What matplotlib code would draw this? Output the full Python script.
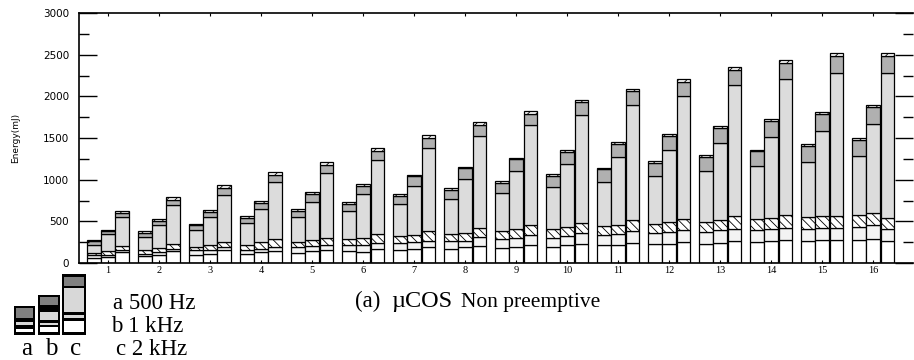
import matplotlib
matplotlib.use("Agg")
import matplotlib.pyplot as plt
from matplotlib.patches import Rectangle
import numpy as np

# ---- data (mJ), per group: (a=500Hz, b=1kHz, c=2kHz) ----
groups = [str(i) for i in range(1, 17)]
white = [(60, 72, 132), (80, 92, 144), (92, 112, 152), (104, 132, 140),
         (124, 140, 152), (140, 132, 172), (160, 172, 192), (172, 188, 205),
         (184, 192, 213), (192, 213, 229), (213, 221, 245), (225, 233, 253),
         (233, 245, 265), (253, 261, 273), (265, 273, 273), (281, 293, 265)]
offwhite = [(32, 28, 28), (32, 40, 28), (60, 40, 40), (48, 40, 52),
            (68, 65, 68), (80, 88, 73), (81, 81, 77), (93, 81, 108),
            (101, 113, 120), (113, 112, 132), (120, 132, 136), (140, 140, 148),
            (140, 148, 148), (140, 144, 152), (148, 148, 148), (152, 160, 148)]
hatched = [(32, 44, 45), (40, 48, 53), (40, 69, 61), (69, 81, 101),
           (61, 76, 85), (73, 85, 100), (80, 80, 120), (88, 96, 112),
           (96, 100, 120), (108, 108, 120), (112, 108, 132), (108, 120, 124),
           (120, 120, 148), (132, 136, 148), (140, 144, 144), (148, 148, 132)]
lightgray = [(97, 202, 346), (164, 276, 477), (207, 333, 563), (254, 399, 674),
             (297, 456, 773), (331, 525, 891), (382, 591, 994), (414, 645, 1104),
             (460, 703, 1198), (494, 753, 1296), (528, 807, 1382), (567, 862, 1481),
             (614, 928, 1579), (634, 974, 1632), (661, 1024, 1719), (699, 1066, 1734)]
midgray = [(40, 35, 45), (45, 50, 55), (55, 60, 85), (70, 70, 90),
           (80, 90, 100), (90, 100, 110), (100, 115, 120), (115, 125, 130),
           (125, 135, 140), (140, 150, 150), (150, 160, 165), (160, 170, 170),
           (165, 180, 180), (180, 190, 200), (190, 200, 205), (200, 210, 210)]
topband = [(20, 20, 30)] * 16

freq_labels = ["a 500 Hz", "b 1 kHz", "c 2 kHz"]

segments = [
    (white, dict(facecolor="white")),
    (offwhite, dict(facecolor="#f3f3f3")),
    (hatched, dict(facecolor="white", hatch="\\\\\\\\")),
    (lightgray, dict(facecolor="#dcdcdc")),
    (midgray, dict(facecolor="#b0b0b0")),
    (topband, dict(facecolor="white", hatch="////")),
]

plt.rcParams["hatch.linewidth"] = 0.6
fig = plt.figure(figsize=(9.14, 3.60), dpi=100)
ax = fig.add_axes([79 / 914, 97 / 360, 834 / 914, 250 / 360])

x = np.arange(1, len(groups) + 1)
offsets = [-0.28, 0.0, 0.28]
width = 0.27
for k, off in enumerate(offsets):
    bottom = np.zeros(len(groups))
    for seg, style in segments:
        vals = np.array([g[k] for g in seg], dtype=float)
        ax.bar(x + off, vals, width, bottom=bottom, edgecolor="black",
               linewidth=0.9, **style)
        bottom += vals

ax.set_xlim(0.43, 16.78)
ax.set_ylim(0, 3000)
ax.set_yticks(np.arange(0, 3001, 500))
ax.set_yticks(np.arange(0, 3001, 250), minor=True)
ax.tick_params(axis="y", which="major", direction="in", length=13, width=1,
               right=True, labelsize=7.5, pad=7)
ax.tick_params(axis="y", which="minor", direction="in", length=7, width=1, right=True)
ax.set_xticks(x)
ax.set_xticklabels(groups, fontfamily="Liberation Serif", fontsize=7.5)
ax.tick_params(axis="x", direction="in", length=2, top=True, pad=2)
for s in ax.spines.values():
    s.set_linewidth(1.2)
ax.spines["right"].set_visible(False)

fig.text(16 / 914, 1 - 138 / 360, "Energy(mJ)", rotation=90, fontsize=6.5,
         ha="center", va="center")

# ---- legend icon (bottom-left) ----
icon_names = ["a", "b", "c"]
icon_left = [14, 38, 62]
icon_right = [35, 60, 86]
icon_height = [29, 40, 61]
# bands inside each icon: (start, end, color) measured from icon bottom (px)
icon_bands = [
    [(2.7, 6.0, "white"), (10.0, 13.3, "#d8d8d8"), (17.3, 26.7, "#808080")],
    [(2.7, 8.3, "white"), (10.0, 11.7, "#d8d8d8"), (15.0, 23.3, "#d8d8d8"), (30.0, 37.7, "#808080")],
    [(2.7, 14.0, "white"), (16.7, 20.0, "#d8d8d8"), (23.3, 47.3, "#d8d8d8"), (49.3, 57.7, "#808080")],
]
iax = fig.add_axes([0, 0, 1, 1], facecolor="none")
iax.set_xlim(0, 914)
iax.set_ylim(360, 0)
iax.axis("off")
base_y = 335
for n, l, r, h, bands in zip(icon_names, icon_left, icon_right, icon_height, icon_bands):
    iax.add_patch(Rectangle((l, base_y - h), r - l, h, facecolor="black", edgecolor="none"))
    for b0, b1, c in bands:
        iax.add_patch(Rectangle((l + 2, base_y - b1), r - l - 4, b1 - b0,
                                facecolor=c, edgecolor="none"))
    iax.text((l + r) / 2 + 2, 355, n, fontfamily="Liberation Serif", fontsize=18,
             ha="center", va="baseline")

for lbl, xx, yy in zip(freq_labels, [113, 111, 116], [309, 332, 355]):
    iax.text(xx, yy, lbl, fontfamily="Liberation Serif", fontsize=16.5,
             ha="left", va="baseline")

iax.text(355, 307, "(a)", fontfamily="Liberation Serif", fontsize=16.5,
         ha="left", va="baseline")
iax.text(391, 307, "µCOS", fontfamily="Liberation Serif", fontsize=17.5,
         ha="left", va="baseline")
iax.text(461, 307, "Non preemptive", fontfamily="Liberation Serif", fontsize=15.5,
         ha="left", va="baseline")

fig.savefig("out.png", dpi=100)
